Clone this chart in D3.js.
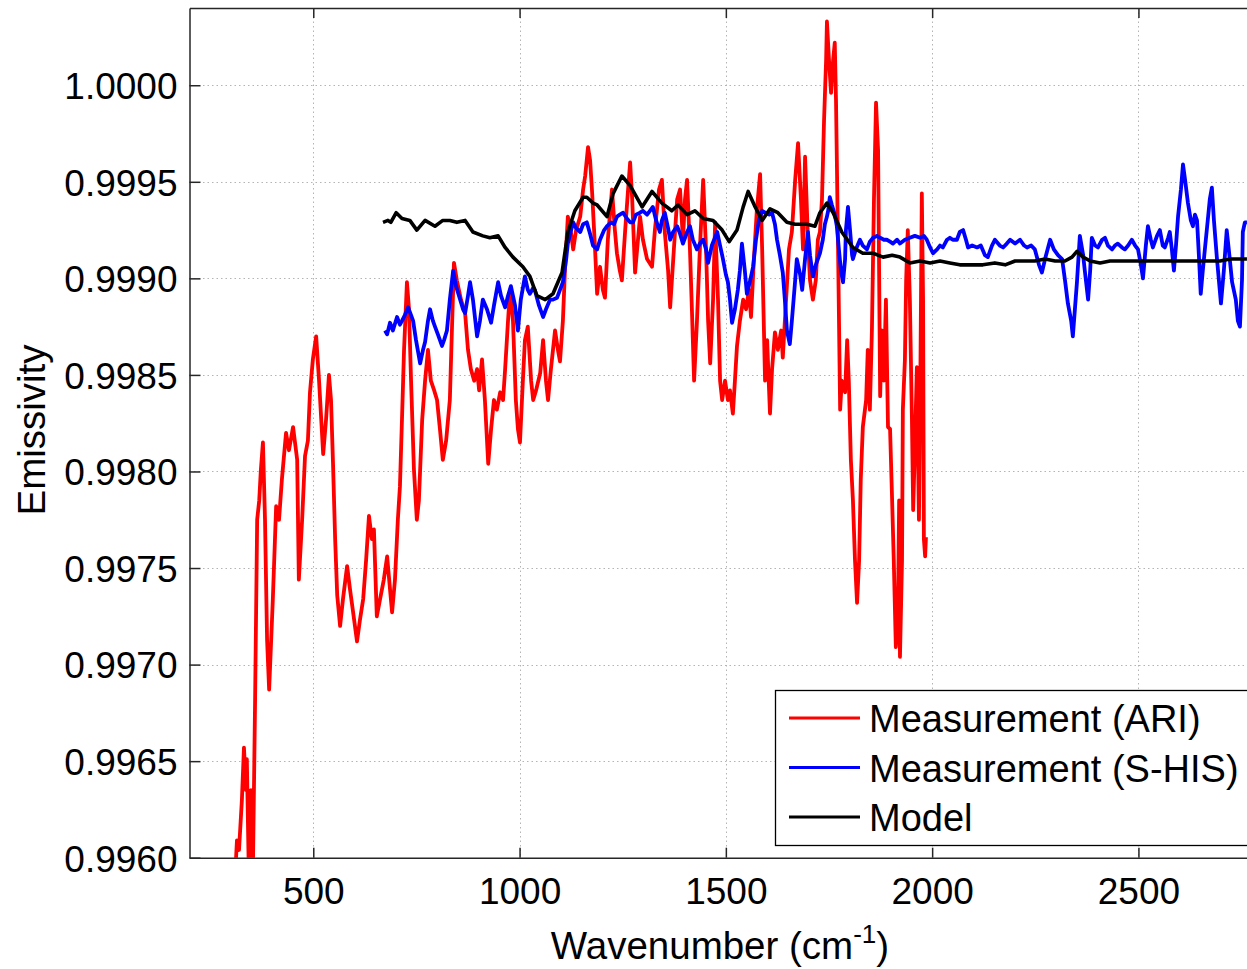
<!DOCTYPE html>
<html><head><meta charset="utf-8">
<script src="https://cdn.jsdelivr.net/npm/d3@7"></script>
<style>body{margin:0;background:#fff;} svg{display:block;font-family:"Liberation Sans",Arial,sans-serif;}</style>
</head><body>
<svg id="chart" width="1247" height="969"></svg>
<script>
// ---- Data (wavenumber cm^-1, emissivity) ----
const ariWn = [310,315,320,327,332,337,339,344,349,354,359,364,369,373,378,383,388,393,398,402,410,417,424,434,441,451,461,465,473,480,487,492,499,507,514,524,531,538,543,548,553,558,565,572,582,589,596,606,613,621,628,635,642,647,654,662,671,679,686,691,698,705,710,715,720,727,732,737,744,751,756,764,771,778,785,793,800,807,814,822,831,836,841,848,858,868,875,882,890,897,902,909,916,924,931,938,945,953,960,965,972,977,984,991,996,1001,1008,1013,1020,1028,1033,1040,1050,1057,1064,1069,1076,1086,1093,1098,1105,1110,1117,1125,1130,1137,1147,1154,1159,1166,1171,1176,1183,1188,1195,1202,1207,1214,1224,1231,1236,1243,1248,1256,1263,1268,1273,1280,1287,1292,1299,1309,1321,1328,1338,1345,1352,1360,1365,1374,1382,1389,1396,1401,1406,1413,1418,1423,1430,1437,1445,1452,1457,1462,1469,1474,1481,1486,1491,1498,1505,1510,1517,1522,1527,1534,1542,1549,1556,1561,1568,1575,1583,1588,1595,1600,1607,1612,1619,1626,1634,1638,1646,1653,1660,1668,1675,1682,1687,1692,1699,1704,1711,1718,1723,1728,1733,1738,1743,1745,1750,1755,1760,1764,1767,1772,1777,1781,1789,1794,1798,1803,1808,1813,1818,1823,1827,1832,1840,1844,1849,1854,1859,1864,1869,1874,1878,1883,1888,1893,1898,1903,1907,1912,1917,1920,1922,1927,1929,1934,1937,1941,1946,1951,1954,1958,1963,1968,1971,1975,1978,1980,1983,1985];
const ariVal = [0.99588,0.99609,0.99604,0.99630,0.99657,0.99635,0.99651,0.99589,0.99635,0.99599,0.99682,0.99775,0.99785,0.99801,0.99815,0.99775,0.99713,0.99687,0.99713,0.99734,0.99782,0.99775,0.99796,0.99820,0.99811,0.99823,0.99806,0.99744,0.99775,0.99808,0.99816,0.99841,0.99858,0.99870,0.99847,0.99809,0.99827,0.99850,0.99837,0.99803,0.99765,0.99736,0.99720,0.99734,0.99751,0.99739,0.99728,0.99712,0.99723,0.99734,0.99754,0.99777,0.99765,0.99770,0.99725,0.99734,0.99744,0.99756,0.99739,0.99727,0.99744,0.99775,0.99792,0.99827,0.99863,0.99898,0.99884,0.99847,0.99801,0.99775,0.99785,0.99827,0.99847,0.99863,0.99847,0.99842,0.99837,0.99822,0.99806,0.99816,0.99837,0.99873,0.99908,0.99899,0.99889,0.99882,0.99863,0.99853,0.99847,0.99853,0.99842,0.99858,0.99837,0.99804,0.99822,0.99837,0.99832,0.99841,0.99837,0.99853,0.99878,0.99894,0.99878,0.99837,0.99822,0.99815,0.99847,0.99868,0.99875,0.99847,0.99837,0.99842,0.99851,0.99868,0.99847,0.99837,0.99853,0.99873,0.99863,0.99857,0.99878,0.99904,0.99932,0.99923,0.99915,0.99925,0.99932,0.99946,0.99953,0.99968,0.99961,0.99944,0.99915,0.99892,0.99906,0.99894,0.99890,0.99920,0.99946,0.99925,0.99913,0.99904,0.99899,0.99925,0.99946,0.99960,0.99941,0.99903,0.99920,0.99932,0.99920,0.99910,0.99906,0.99925,0.99946,0.99951,0.99924,0.99904,0.99885,0.99915,0.99941,0.99946,0.99920,0.99941,0.99951,0.99915,0.99882,0.99847,0.99878,0.99915,0.99951,0.99915,0.99878,0.99856,0.99889,0.99929,0.99889,0.99847,0.99837,0.99847,0.99837,0.99842,0.99830,0.99847,0.99865,0.99878,0.99889,0.99884,0.99894,0.99880,0.99910,0.99935,0.99954,0.99915,0.99847,0.99868,0.99830,0.99853,0.99872,0.99863,0.99873,0.99859,0.99889,0.99915,0.99924,0.99951,0.99970,0.99941,0.99915,0.99963,0.99920,0.99899,0.99889,0.99899,0.99920,0.99924,0.99941,0.99982,1.00013,1.00033,1.00013,0.99996,1.00013,1.00022,0.99992,0.99915,0.99832,0.99847,0.99841,0.99868,0.99847,0.99806,0.99785,0.99754,0.99732,0.99754,0.99796,0.99823,0.99837,0.99863,0.99832,0.99873,0.99941,0.99991,0.99966,0.99839,0.99873,0.99847,0.99889,0.99823,0.99822,0.99785,0.99754,0.99709,0.99723,0.99785,0.99704,0.99754,0.99832,0.99858,0.99899,0.99925,0.99889,0.99827,0.99780,0.99811,0.99854,0.99775,0.99837,0.99944,0.99889,0.99765,0.99756,0.99766];

const shisWn = [674,679,686,693,703,710,715,722,730,737,742,749,759,766,771,778,783,790,795,802,812,817,824,831,839,846,856,863,868,875,880,887,897,904,911,921,931,938,948,955,965,972,979,989,996,1003,1013,1020,1025,1033,1037,1047,1057,1064,1074,1081,1091,1098,1105,1113,1117,1125,1130,1137,1147,1154,1163,1171,1178,1188,1195,1205,1212,1222,1229,1236,1243,1251,1260,1268,1275,1282,1292,1299,1309,1316,1323,1331,1340,1345,1352,1360,1365,1372,1382,1389,1396,1406,1413,1420,1430,1437,1445,1452,1457,1466,1479,1486,1493,1500,1505,1510,1515,1522,1529,1534,1539,1546,1551,1559,1566,1573,1580,1588,1595,1605,1612,1619,1624,1631,1638,1643,1648,1655,1660,1668,1672,1680,1685,1692,1699,1704,1711,1718,1723,1728,1735,1740,1745,1748,1752,1757,1764,1769,1774,1779,1784,1789,1791,1796,1801,1806,1808,1815,1825,1832,1842,1849,1857,1866,1874,1883,1890,1898,1905,1915,1922,1934,1946,1958,1971,1980,1987,1995,2002,2012,2019,2026,2036,2043,2050,2060,2067,2075,2082,2087,2097,2109,2118,2128,2135,2145,2152,2164,2172,2181,2189,2201,2213,2223,2230,2240,2249,2259,2266,2276,2286,2295,2305,2315,2322,2329,2337,2341,2346,2351,2358,2366,2370,2378,2383,2387,2395,2402,2412,2419,2426,2436,2443,2450,2460,2467,2475,2484,2492,2499,2506,2511,2518,2523,2530,2535,2545,2552,2559,2564,2572,2576,2581,2586,2591,2596,2603,2608,2613,2620,2627,2632,2637,2642,2647,2651,2656,2661,2668,2673,2678,2683,2690,2695,2700,2707,2714,2719,2727,2731,2736,2741,2746,2751,2753,2758,2763];
const shisVal = [0.99873,0.99871,0.99877,0.99873,0.99880,0.99876,0.99878,0.99881,0.99885,0.99881,0.99878,0.99868,0.99856,0.99863,0.99867,0.99878,0.99884,0.99878,0.99875,0.99871,0.99865,0.99868,0.99873,0.99889,0.99904,0.99896,0.99889,0.99884,0.99882,0.99891,0.99898,0.99889,0.99870,0.99878,0.99889,0.99884,0.99877,0.99886,0.99898,0.99891,0.99885,0.99891,0.99896,0.99886,0.99873,0.99889,0.99901,0.99894,0.99892,0.99895,0.99894,0.99886,0.99880,0.99884,0.99889,0.99889,0.99890,0.99894,0.99898,0.99910,0.99918,0.99925,0.99929,0.99926,0.99924,0.99928,0.99929,0.99923,0.99917,0.99915,0.99920,0.99925,0.99927,0.99929,0.99928,0.99932,0.99933,0.99934,0.99931,0.99929,0.99929,0.99933,0.99934,0.99935,0.99933,0.99935,0.99937,0.99930,0.99924,0.99930,0.99934,0.99926,0.99920,0.99924,0.99927,0.99923,0.99918,0.99924,0.99927,0.99920,0.99915,0.99918,0.99920,0.99915,0.99908,0.99917,0.99924,0.99917,0.99910,0.99902,0.99898,0.99889,0.99877,0.99884,0.99894,0.99904,0.99918,0.99904,0.99892,0.99899,0.99906,0.99920,0.99930,0.99935,0.99934,0.99933,0.99934,0.99928,0.99920,0.99912,0.99903,0.99889,0.99873,0.99866,0.99878,0.99899,0.99910,0.99902,0.99894,0.99910,0.99924,0.99912,0.99901,0.99907,0.99910,0.99913,0.99920,0.99928,0.99932,0.99935,0.99942,0.99938,0.99933,0.99927,0.99915,0.99904,0.99898,0.99910,0.99925,0.99937,0.99925,0.99912,0.99910,0.99915,0.99920,0.99917,0.99915,0.99919,0.99921,0.99922,0.99921,0.99920,0.99920,0.99919,0.99918,0.99920,0.99918,0.99920,0.99921,0.99922,0.99921,0.99922,0.99920,0.99916,0.99913,0.99915,0.99917,0.99916,0.99920,0.99921,0.99920,0.99920,0.99924,0.99925,0.99920,0.99916,0.99917,0.99916,0.99917,0.99912,0.99911,0.99917,0.99920,0.99917,0.99916,0.99918,0.99920,0.99918,0.99920,0.99917,0.99916,0.99917,0.99915,0.99907,0.99903,0.99912,0.99920,0.99915,0.99912,0.99910,0.99899,0.99887,0.99878,0.99870,0.99884,0.99898,0.99922,0.99912,0.99904,0.99889,0.99904,0.99921,0.99917,0.99916,0.99920,0.99921,0.99917,0.99915,0.99917,0.99918,0.99916,0.99915,0.99917,0.99920,0.99917,0.99915,0.99907,0.99900,0.99917,0.99927,0.99920,0.99916,0.99922,0.99925,0.99917,0.99916,0.99921,0.99924,0.99915,0.99904,0.99917,0.99932,0.99946,0.99959,0.99951,0.99939,0.99930,0.99927,0.99933,0.99930,0.99910,0.99892,0.99904,0.99915,0.99930,0.99941,0.99947,0.99930,0.99911,0.99899,0.99887,0.99904,0.99925,0.99915,0.99898,0.99894,0.99889,0.99878,0.99875,0.99899,0.99924,0.99929,0.99929];

const modelWn = [669,681,688,701,715,734,751,771,795,814,831,848,868,887,911,928,948,965,984,1008,1025,1042,1062,1081,1103,1117,1134,1154,1163,1178,1188,1212,1227,1248,1268,1297,1321,1345,1369,1384,1406,1425,1445,1469,1491,1508,1527,1542,1554,1571,1588,1607,1626,1648,1668,1697,1716,1728,1745,1760,1781,1808,1832,1857,1881,1903,1922,1946,1971,1995,2019,2043,2067,2099,2123,2152,2177,2201,2225,2249,2274,2298,2322,2339,2351,2366,2383,2407,2431,2455,2480,2504,2528,2552,2576,2601,2625,2649,2673,2698,2722,2746,2763];
const modelVal = [0.99929,0.99930,0.99929,0.99934,0.99931,0.99930,0.99925,0.99930,0.99927,0.99930,0.99930,0.99929,0.99930,0.99924,0.99922,0.99921,0.99922,0.99916,0.99911,0.99906,0.99901,0.99891,0.99889,0.99892,0.99903,0.99924,0.99935,0.99942,0.99942,0.99939,0.99938,0.99932,0.99944,0.99953,0.99948,0.99937,0.99945,0.99939,0.99935,0.99938,0.99933,0.99935,0.99931,0.99930,0.99925,0.99919,0.99925,0.99937,0.99945,0.99937,0.99930,0.99936,0.99934,0.99929,0.99928,0.99928,0.99927,0.99934,0.99939,0.99934,0.99924,0.99916,0.99913,0.99913,0.99911,0.99912,0.99911,0.99908,0.99909,0.99908,0.99909,0.99908,0.99907,0.99907,0.99907,0.99908,0.99907,0.99909,0.99909,0.99909,0.99910,0.99909,0.99909,0.99911,0.99914,0.99911,0.99909,0.99908,0.99909,0.99909,0.99909,0.99909,0.99909,0.99909,0.99909,0.99909,0.99909,0.99909,0.99909,0.99909,0.99910,0.99910,0.99910];

const xTicks = [500,1000,1500,2000,2500];
const yTicks = [0.9960,0.9965,0.9970,0.9975,0.9980,0.9985,0.9990,0.9995,1.0000];
const seriesNames = ["Measurement (ARI)","Measurement (S-HIS)","Model"];
const seriesColors = ["#ff0000","#0000ff","#000000"];
const xLabel = "Wavenumber (cm";
const yLabel = "Emissivity";

// ---- Layout ----
const L = 189.5, T = 8, B = 857.7;
const x = d3.scaleLinear().domain([200, 2800]).range([L, L + 2600 * 0.41258]);
const y = d3.scaleLinear().domain([0.996, 1.0004]).range([B, T]);
const svg = d3.select("#chart");
const R = x.range()[1];

svg.append("defs").append("clipPath").attr("id","clip")
  .append("rect").attr("x",L).attr("y",T).attr("width",R-L).attr("height",B-T);

// grid
const grid = svg.append("g").attr("stroke","#b4b4b4").attr("stroke-width",1).attr("stroke-dasharray","1.5,3");
grid.selectAll(".gx").data(xTicks).join("line")
  .attr("x1",d=>Math.round(x(d))+0.5).attr("x2",d=>Math.round(x(d))+0.5).attr("y1",T).attr("y2",B);
grid.selectAll(".gy").data(yTicks).join("line")
  .attr("y1",d=>Math.round(y(d))+0.5).attr("y2",d=>Math.round(y(d))+0.5).attr("x1",L).attr("x2",R);

// series
const series = [
  {wn: ariWn, val: ariVal, w: 3.8},
  {wn: shisWn, val: shisVal, w: 3.8},
  {wn: modelWn, val: modelVal, w: 3.6}
];
const line = d3.line().x(d=>x(d[0])).y(d=>y(d[1]));
const plot = svg.append("g").attr("clip-path","url(#clip)");
series.forEach((s,i)=>{
  plot.append("path").datum(s.wn.map((w,j)=>[w,s.val[j]]))
    .attr("fill","none").attr("stroke",seriesColors[i]).attr("stroke-width",s.w)
    .attr("stroke-linejoin","round").attr("d",line);
});

// axes
const axCol = "#262626";
const FONT = "Liberation Sans, Arial, sans-serif";
const xAxisB = d3.axisBottom(x).tickValues(xTicks).tickSizeInner(-10).tickSizeOuter(0).tickFormat(d3.format("d"));
const gxB = svg.append("g").attr("transform",`translate(0,${B})`).call(xAxisB);
gxB.select(".domain").attr("stroke",axCol).attr("stroke-width",1.5);
gxB.selectAll(".tick line").attr("stroke",axCol).attr("stroke-width",1.5);
gxB.selectAll(".tick text").attr("font-size",37).attr("fill","#000").attr("y",46).attr("dy",0)
  .attr("font-family",FONT);

const xAxisT = d3.axisTop(x).tickValues(xTicks).tickSizeInner(-10).tickSizeOuter(0).tickFormat("");
const gxT = svg.append("g").attr("transform",`translate(0,${T})`).call(xAxisT);
gxT.select(".domain").attr("stroke",axCol).attr("stroke-width",1.5);
gxT.selectAll(".tick line").attr("stroke",axCol).attr("stroke-width",1.5);

const yAxis = d3.axisLeft(y).tickValues(yTicks).tickSizeInner(-11).tickSizeOuter(0).tickFormat(d3.format(".4f")).tickPadding(12);
const gy = svg.append("g").attr("transform",`translate(${L},0)`).call(yAxis);
gy.select(".domain").attr("stroke",axCol).attr("stroke-width",1.5);
gy.selectAll(".tick line").attr("stroke",axCol).attr("stroke-width",1.5);
gy.selectAll(".tick text").attr("font-size",37).attr("fill","#000").attr("x",-12).attr("dy","0.36em")
  .attr("font-family",FONT);

// axis labels
const xl = svg.append("text").attr("x",720).attr("y",959).attr("text-anchor","middle")
  .attr("font-size",38.5).attr("fill","#000");
xl.append("tspan").text(xLabel);
xl.append("tspan").attr("dy",-16).attr("font-size",26).text("-1");
xl.append("tspan").attr("dy",16).text(")");

svg.append("text").attr("transform","translate(45,430) rotate(-90)").attr("text-anchor","middle")
  .attr("font-size",38.5).attr("fill","#000").text(yLabel);

// legend
const lg = svg.append("g");
lg.append("rect").attr("x",775.5).attr("y",690.5).attr("width",490).attr("height",155)
  .attr("fill","#fff").attr("stroke","#000").attr("stroke-width",1.3);
seriesNames.forEach((n,i)=>{
  const yy = 718 + i*49.5;
  lg.append("line").attr("x1",789).attr("x2",860).attr("y1",yy).attr("y2",yy)
    .attr("stroke",seriesColors[i]).attr("stroke-width",3.2);
  lg.append("text").attr("x",869).attr("y",yy+14).attr("font-size",38).attr("fill","#000").text(n);
});
</script>
</body></html>
